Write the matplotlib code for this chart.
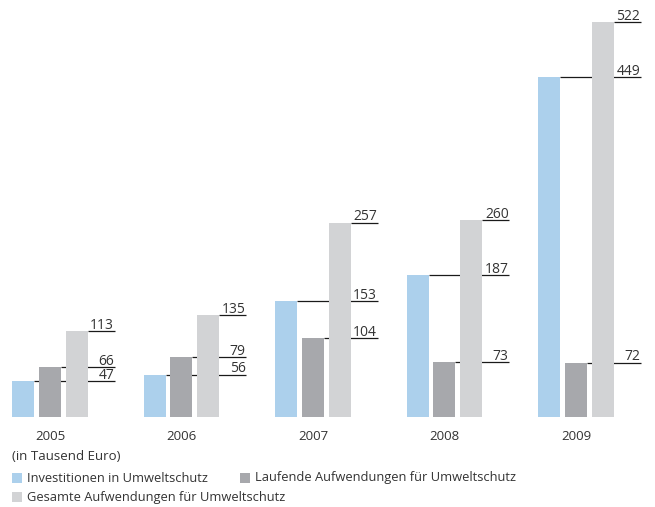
import matplotlib
matplotlib.use("Agg")
import matplotlib.pyplot as plt
from matplotlib.patches import Rectangle

years = ["2005", "2006", "2007", "2008", "2009"]
investitionen = [47, 56, 153, 187, 449]
laufende = [66, 79, 104, 73, 72]
gesamte = [113, 135, 257, 260, 522]

series = [
    ("Investitionen in Umweltschutz", investitionen, "#acd0ec"),
    ("Laufende Aufwendungen für Umweltschutz", laufende, "#a7a8ac"),
    ("Gesamte Aufwendungen für Umweltschutz", gesamte, "#d2d3d5"),
]

plt.rcParams["font.family"] = ["Open Sans", "DejaVu Sans"]
txt_col = "#333333"

fig = plt.figure(figsize=(6.55, 5.07), dpi=100)
ax = fig.add_axes([0, 90 / 507, 1, 417 / 507])
ax.set_xlim(-0.380, 4.601)
ax.set_ylim(0, 551)
ax.axis("off")

width = 0.167
step = 0.203
line_end = 0.494

for k, (name, vals, col) in enumerate(series):
    off = (k - 1) * step
    for i, v in enumerate(vals):
        x = i + off
        ax.bar(x, v, width=width, color=col, zorder=3)
        # leader line from bar top out to the value label
        ax.plot([x + width / 2, i + line_end], [v, v], color="#1a1a1a",
                lw=0.9, zorder=1, solid_capstyle="butt")
        ax.text(i + line_end - 0.006, v + 2.8, str(v), ha="right", va="baseline",
                fontsize=10, color=txt_col)

for i, y in enumerate(years):
    fig.text((50 + 131.5 * i) / 655, 1 - 436 / 507, y, ha="center",
             va="center", fontsize=9.5, color=txt_col)

fig.text(12 / 655, 1 - 457 / 507, "(in Tausend Euro)", ha="left",
         va="center", fontsize=9.5, color=txt_col)

legend_pos = [(12, 478), (240, 478), (12, 497)]
for (name, vals, col), (px, py) in zip(series, legend_pos):
    fig.add_artist(Rectangle((px / 655, 1 - (py + 5) / 507), 10 / 655, 10 / 507,
                             transform=fig.transFigure, color=col, lw=0))
    fig.text((px + 15) / 655, 1 - py / 507, name, ha="left", va="center",
             fontsize=9.3, color=txt_col)

fig.savefig("out.png", dpi=100)
